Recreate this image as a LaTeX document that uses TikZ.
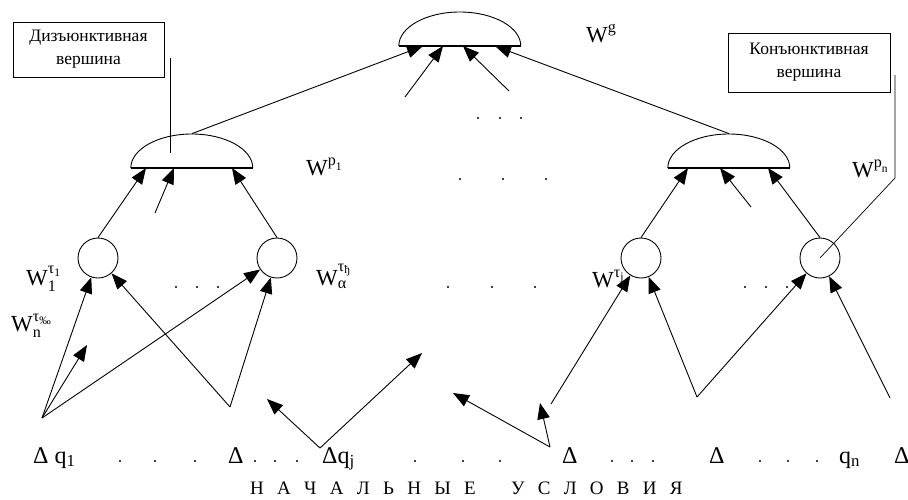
\documentclass[tikz,border=0pt]{standalone}
\usepackage{amsmath}
\usepackage{fontspec}
\setmainfont{Liberation Serif}
\usetikzlibrary{arrows.meta}

\tikzset{
  lnk/.style={line width=0.9pt},
  arr/.style={lnk,-{Triangle[length=16pt,width=12.5pt]}},
  vert/.style={circle,draw,line width=0.9pt,fill=white,minimum size=40pt,inner sep=0pt},
  domebox/.style={rectangle,minimum width=122pt,minimum height=34pt,inner sep=0pt,anchor=south},
  note/.style={draw,line width=0.7pt,minimum width=151pt,minimum height=55pt,align=center,
    font=\fontsize{17.5}{23}\selectfont},
  lbl/.style={anchor=base west,inner sep=0pt,font=\fontsize{23}{27}\selectfont},
  row/.style={lbl,font=\fontsize{24}{28}\selectfont},
}

\begin{document}
\begin{tikzpicture}[x=1pt,y=-1pt]
\useasboundingbox (0,0) rectangle (908,499);

% vertices of the tree
\node[domebox] (g) at (460,46) {};
\node[domebox] (p1) at (192,168) {};
\node[domebox] (pn) at (729,168) {};
\foreach \d in {g,p1,pn}{
  \draw[lnk] (\d.south west) arc[start angle=180,end angle=0,x radius=61pt,y radius=34pt];
  \draw[line width=1.4pt] (\d.south west) -- (\d.south east);
}

% labels
\node[lbl] (wg) at (586,42) {W$^{\text{g}}$};
\node[lbl] (wp1) at (306,175) {W$^{\text{p}_{\text{1}}}$};
\node[lbl] (wpn) at (852,177) {W$^{\text{p}_{\text{n}}}$};
\node[lbl] (wt1) at (26,285) {W$_{\text{1}}^{\text{τ}_{\text{1}}}$};
\node[lbl] (wtn) at (11,331) {W$_{\text{n}}^{\text{τ}_{\text{‰}}}$};
\node[lbl] (wta) at (316,285) {W$_{\text{α}}^{\text{τ}_{\text{ђ}}}$};
\node[lbl] (wtj) at (592,287) {W$^{\text{τ}_{\text{j}}}$};

\node[vert] (c1) at (98,258) {};
\node[vert] (c2) at (277,258) {};
\node[vert] (c3) at (641,258) {};
\node[vert] (c4) at (820,258) {};

% callouts
\node[note] (dis) at (88.5,49.5) {Дизъюнктивная\\вершина};
\node[note,minimum width=162pt,minimum height=59pt] (con) at (809,62.5) {Конъюнктивная\\вершина};
\coordinate (k1) at (170,58);
\coordinate (k2) at (170,153);
\coordinate (k3) at (895,75);
\coordinate (k4) at (895,178);
\draw[line width=0.7pt] (k1) -- (k2);
\draw[line width=0.7pt] (k3) -- (k4) -- (c4.center);

% initial conditions
\node[row] (q1) at (33,463) {Δ q$_{\text{1}}$};
\node[row] (dl2) at (228,463) {Δ};
\node[row] (qj) at (322,463) {Δq$_{\text{j}}$};
\node[row] (dl4) at (562,463) {Δ};
\node[row] (dl5) at (709,463) {Δ};
\node[row] (qn) at (839,463) {q$_{\text{n}}$};
\node[row] (dl7) at (894,463) {Δ};
\node[lbl,font=\fontsize{19}{22}\selectfont] (title) at (250,494)
  {\spaceskip=13.3pt\relax Н А Ч А Л Ь Н Ы Е\hspace{22pt} У С Л О В И Я};

\coordinate (sa) at (42,418);
\coordinate (sb) at (230,407);
\coordinate (sc) at (320,448);
\coordinate (sd) at (550,447);
\coordinate (se) at (697,397);
\coordinate (sf) at (890,398);
\coordinate (sd2) at (551,404);
\coordinate (ta) at (87,345);
\coordinate (tc1) at (267,399);
\coordinate (tc2) at (422,353);
\coordinate (td1) at (453,393);
\coordinate (td2) at (540,403);
\coordinate (u1) at (155,213);
\coordinate (u2) at (751,207);
\coordinate (u3) at (405,97);
\coordinate (u4) at (509,91);

\draw[arr] (sa) -- (c1);
\draw[arr] (sa) -- (ta);
\draw[arr] (sa) -- (c2);
\draw[arr] (sb) -- (c1);
\draw[arr] (sb) -- (c2);
\draw[arr] (sc) -- (tc1);
\draw[arr] (sc) -- (tc2);
\draw[arr] (sd) -- (td1);
\draw[arr] (sd) -- (td2);
\draw[arr] (sd2) -- (c3);
\draw[arr] (se) -- (c3);
\draw[arr] (se) -- (c4);
\draw[arr] (sf) -- (c4);

\draw[arr] (c1.north) -- ([xshift=-46pt]p1.south);
\draw[arr] (u1) -- ([xshift=-18pt]p1.south);
\draw[arr] (c2.north) -- ([xshift=40pt]p1.south);
\draw[arr] (c3.north) -- ([xshift=-41pt]pn.south);
\draw[arr] (u2) -- ([xshift=-9pt]pn.south);
\draw[arr] (c4.north) -- ([xshift=39pt]pn.south);

\draw[arr] (p1.north) -- ([xshift=-37pt]g.south);
\draw[arr] (u3) -- ([xshift=-17pt]g.south);
\draw[arr] (u4) -- ([xshift=3pt]g.south);
\draw[arr] (pn.north) -- ([xshift=35pt]g.south);

% dots
\foreach \x/\y in {478/118,500/118,521/118,460/179,503/179,546/179,448/287,492/287,535/287,
    176/287,197/287,218/287,745/287,766/287,787/287,120/461,155/461,195/461,255/461,275/461,
    297/461,415/461,463/461,500/461,612/461,632/461,653/461,760/461,788/461,817/461}
  \fill (\x,\y) circle (1.1pt);
\end{tikzpicture}
\end{document}
